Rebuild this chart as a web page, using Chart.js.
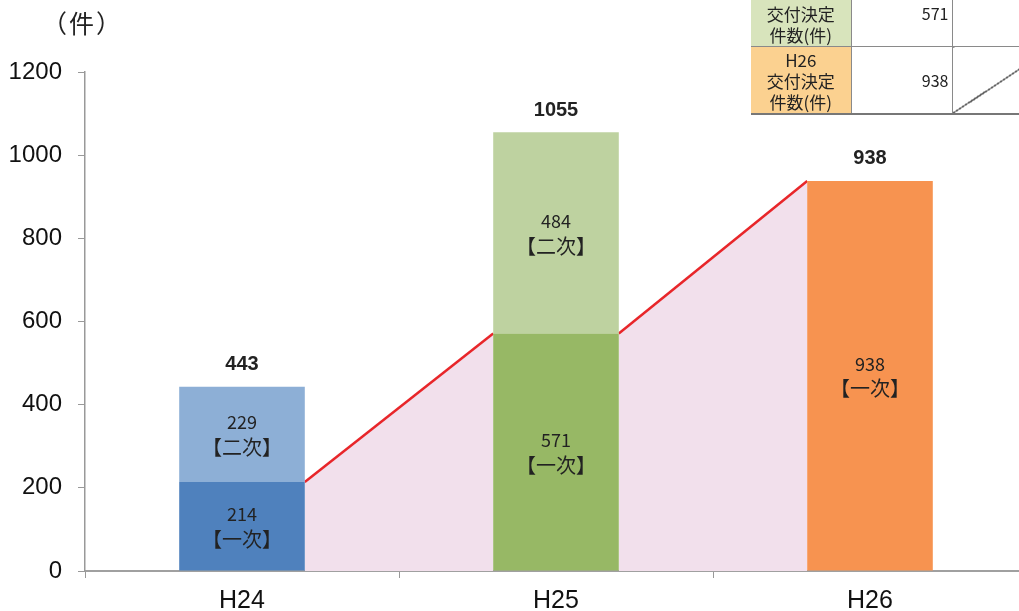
<!DOCTYPE html>
<html>
<head>
<meta charset="utf-8">
<script src="https://cdn.jsdelivr.net/npm/chart.js@4.4.1/dist/chart.umd.min.js"></script>
<style>
  body { margin: 0; overflow: hidden; background: #fff; }
  #wrap { position: relative; width: 1019px; height: 611px; overflow: hidden; }
  #unit { position: absolute; left: 42px; top: 4px; font: 25px "Noto Sans CJK JP", sans-serif; letter-spacing: 2px; color: #222; }
  #tbl { position: absolute; left: 751px; top: -21px; width: 302px; table-layout: fixed; border-collapse: collapse; font: 17px "Noto Sans CJK JP", sans-serif; color: #222; }
  #tbl td { border: 1.5px solid #8a8a8a; height: 66px; padding: 0; }
  #tbl td.lab { text-align: center; line-height: 21px; border-left: none; }
  #tbl td.val { text-align: right; padding-right: 3px; font-size: 16px; }
  #tbl tr.last td { border-bottom: 2px solid #777; }
  #tbl td.diag { background: linear-gradient(to bottom right, transparent calc(50% - 0.6px), #333 calc(50% - 0.6px), #333 calc(50% + 0.6px), transparent calc(50% + 0.6px)); }
</style>
</head>
<body>
<div id="wrap">
  <canvas id="myChart" width="1030" height="611"></canvas>
  <div id="unit">（件）</div>
  <table id="tbl">
    <colgroup><col style="width:100px"><col style="width:101px"><col style="width:101px"></colgroup>
    <tr><td class="lab" style="background:#D8E4BC">H25<br>交付決定<br>件数(件)</td><td class="val">571</td><td></td></tr>
    <tr class="last"><td class="lab" style="background:#FBD190">H26<br>交付決定<br>件数(件)</td><td class="val">938</td><td class="diag"></td></tr>
  </table>
</div>
<script>
const categories = ["H24", "H25", "H26"]
const firstOrder = [214, 571, 938]
const secondOrder = [229, 484, null]
const totals = [443, 1055, 938]
const yTicks = [0, 200, 400, 600, 800, 1000, 1200]

const firstColors = ["#4F81BD", "#97B865", "#F79350"]
const secondColors = ["#8DAFD6", "#BED2A0", "#F79350"]

// line goes from right edge of one bar to left edge of the next one
const half = 0.2
function linkPoints(i) {
  return [
    { x: i + half, y: firstOrder[i] },
    { x: i + 1 - half, y: firstOrder[i + 1] }
  ]
}

const lineStyle = {
  type: "line",
  xAxisID: "x2",
  yAxisID: "y2",
  borderColor: "#E8262A",
  borderWidth: 2.5,
  backgroundColor: "#F2E0EC",
  fill: "origin",
  pointRadius: 0,
  order: 2
}

const labelPlugin = {
  id: "labels",
  afterDatasetsDraw(chart) {
    const ctx = chart.ctx
    ctx.save()
    ctx.textAlign = "center"
    ctx.textBaseline = "middle"
    ctx.fillStyle = "#222"
    const names = ["【一次】", "【二次】"]
    for (let d = 0; d < 2; d++) {
      const meta = chart.getDatasetMeta(d)
      const values = chart.data.datasets[d].data
      meta.data.forEach((bar, i) => {
        if (values[i] == null) return
        const cy = (bar.y + bar.base) / 2
        ctx.font = '18px "Noto Sans CJK JP", sans-serif'
        ctx.fillText(String(values[i]), bar.x, cy - 12)
        ctx.font = '20px "Noto Sans CJK JP", sans-serif'
        ctx.fillText(names[d], bar.x, cy + 13)
      })
    }
    const yScale = chart.scales.y
    const xScale = chart.scales.x
    ctx.font = 'bold 20px "Liberation Sans", sans-serif'
    totals.forEach((t, i) => {
      ctx.fillText(String(t), xScale.getPixelForValue(i), yScale.getPixelForValue(t) - 22)
    })
    ctx.restore()
  }
}

new Chart(document.getElementById("myChart"), {
  type: "bar",
  data: {
    labels: categories,
    datasets: [
      {
        label: "一次",
        data: firstOrder,
        backgroundColor: firstColors,
        grouped: false,
        categoryPercentage: 1,
        barPercentage: 0.4,
        order: 1
      },
      {
        label: "二次",
        data: secondOrder,
        backgroundColor: secondColors,
        grouped: false,
        categoryPercentage: 1,
        barPercentage: 0.4,
        order: 1
      },
      Object.assign({ label: "a", data: linkPoints(0) }, lineStyle),
      Object.assign({ label: "b", data: linkPoints(1) }, lineStyle)
    ]
  },
  options: {
    responsive: false,
    animation: false,
    layout: { padding: { top: 72, right: 3, left: 0, bottom: 0 } },
    plugins: { legend: { display: false }, tooltip: { enabled: false } },
    scales: {
      x: {
        stacked: true,
        grid: { drawOnChartArea: false, tickLength: 7, color: "#999", offset: true },
        border: { color: "#A0A0A0", width: 2 },
        ticks: { color: "#111", padding: 8, font: { size: 25, family: '"Liberation Sans Narrow", "Liberation Sans", sans-serif' } },
        afterFit(s) { s.height = 40 }
      },
      y: {
        stacked: true,
        min: 0,
        max: 1200,
        afterBuildTicks(s) { s.ticks = yTicks.map(v => ({ value: v })) },
        grid: { drawOnChartArea: false, tickLength: 7, color: "#999" },
        border: { color: "#999", width: 1.5 },
        ticks: { color: "#111", padding: 16, callback: v => String(v), font: { size: 24, family: '"Liberation Sans", sans-serif' } },
        afterFit(s) { s.width = 85 }
      },
      x2: { type: "linear", display: false, offset: false, min: -0.5, max: 2.5 },
      y2: { display: false, stacked: false, min: 0, max: 1200 }
    }
  },
  plugins: [labelPlugin]
})
</script>
</body>
</html>
